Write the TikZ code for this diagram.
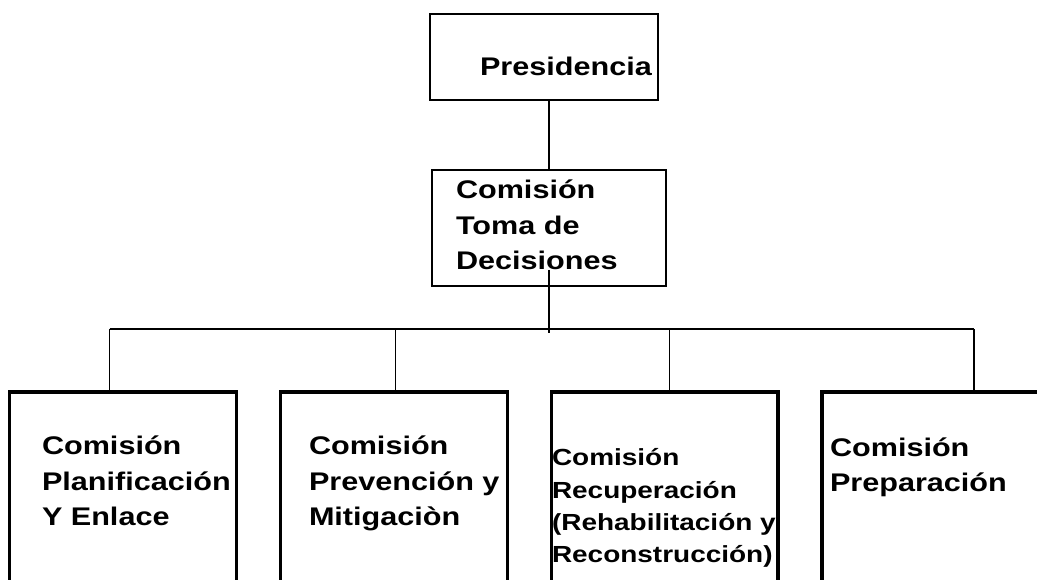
\documentclass[tikz,border=0pt]{standalone}
\usepackage{fontspec}
\newfontfamily\orgfont[FakeStretch=1.2]{Liberation Sans}
\begin{document}
\begin{tikzpicture}[x=1pt,y=-1pt,
  thinbox/.style={draw=black,line width=1.6pt,inner sep=0pt,outer sep=0pt,anchor=north west,minimum height=#1},
  thickbox/.style={draw=black,line width=3.6pt,inner sep=0pt,outer sep=0pt,anchor=north west,minimum height=240pt},
  conn/.style={draw=black,line width=1.6pt},
  lbl/.style={anchor=base west,inner sep=0pt,outer sep=0pt,align=left,font=\orgfont\bfseries\fontsize{25.5}{35.5}\selectfont},
  lblsmall/.style={lbl,font=\orgfont\bfseries\fontsize{23.3}{32.3}\selectfont}]
\useasboundingbox (0,0) rectangle (1037,580);
% boxes
\node[thinbox=86pt,minimum width=228pt] (pres) at (430,14.3) {};
\node[thinbox=116pt,minimum width=234.2pt] (toma) at (431.8,170.3) {};
\node[thickbox,minimum width=227pt] (b1) at (9.5,392) {};
\node[thickbox,minimum width=227pt] (b2) at (280.5,392) {};
\node[thickbox,minimum width=226.5pt] (b3) at (551.5,392) {};
\node[thickbox,minimum width=260pt] (b4) at (821.7,392) {};
% texts (anchored at the baseline of the last line)
\node[lbl] (tp) at (480,75.5) {Presidencia};
\node[lbl] (tt) at (456,270) {Comisión\\Toma de\\Decisiones};
\node[lbl] (t1) at (42,525.7) {Comisión\\Planificación\\Y Enlace};
\node[lbl] (t2) at (309,525.7) {Comisión\\Prevención y\\Mitigaciòn};
\node[lblsmall] (t3) at (552,562.7) {Comisión\\Recuperación\\(Rehabilitación y\\Reconstrucción)};
\node[lbl] (t4) at (830,491.7) {Comisión\\Preparación};
% connectors
\coordinate (stem) at (548.8,270);
\coordinate (stemend) at (548.8,333);
\coordinate (j1) at (109.5,329);
\coordinate (j2) at (395.5,329);
\coordinate (j3) at (669.5,329);
\coordinate (j4) at (973.7,329);
\draw[conn] (pres.south -| stem) -- (toma.north -| stem);
\draw[conn] (stem) -- (stemend);
\draw[conn] (j1) -- (j4);
\draw[conn] (j1) -- (j1 |- b1.north);
\draw[conn] (j2) -- (j2 |- b2.north);
\draw[conn] (j3) -- (j3 |- b3.north);
\draw[conn] (j4) -- (j4 |- b4.north);
\end{tikzpicture}
\end{document}
